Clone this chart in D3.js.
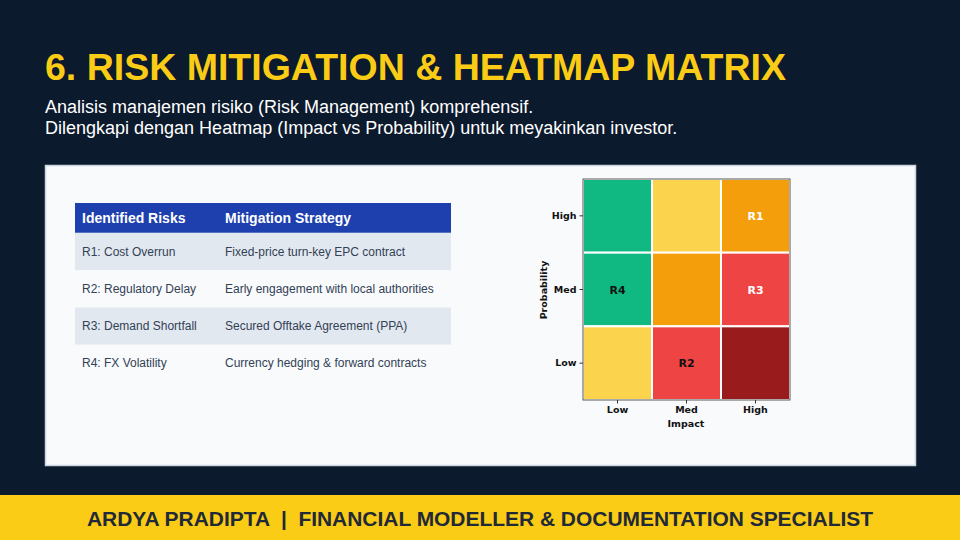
<!DOCTYPE html>
<html><head><meta charset="utf-8">
<script src="https://cdn.jsdelivr.net/npm/d3@7"></script>
<style>html,body{margin:0;padding:0;background:#0c1a2d;}svg{display:block;}</style>
</head><body><svg id="c" width="960" height="540"></svg>
<script>
const title = "6. RISK MITIGATION & HEATMAP MATRIX";
const subtitle = ["Analisis manajemen risiko (Risk Management) komprehensif.",
  "Dilengkapi dengan Heatmap (Impact vs Probability) untuk meyakinkan investor."];
const tableHeader = ["Identified Risks", "Mitigation Strategy"];
const risks = ["R1: Cost Overrun", "R2: Regulatory Delay", "R3: Demand Shortfall", "R4: FX Volatility"];
const strategies = ["Fixed-price turn-key EPC contract", "Early engagement with local authorities",
  "Secured Offtake Agreement (PPA)", "Currency hedging & forward contracts"];
const impactLevels = ["Low", "Med", "High"];
const probLevels = ["High", "Med", "Low"];
// severity per cell: rows = probability (High, Med, Low), cols = impact (Low, Med, High)
const severity = [[0, 1, 2], [0, 2, 3], [1, 3, 4]];
const riskLabels = [{id: "R1", prob: "High", impact: "High"}, {id: "R2", prob: "Low", impact: "Med"},
  {id: "R3", prob: "Med", impact: "High"}, {id: "R4", prob: "Med", impact: "Low"}];
const footer = "ARDYA PRADIPTA  |  FINANCIAL MODELLER & DOCUMENTATION SPECIALIST";

const svg = d3.select("#c");
svg.append("rect").attr("width", 960).attr("height", 540).attr("fill", "#0c1a2d");
svg.append("text").attr("x", 45).attr("y", 80).text(title)
  .attr("font-family", "Liberation Sans, Arial, sans-serif").attr("font-weight", "bold")
  .attr("font-size", 37.5).attr("fill", "#facc15");
svg.selectAll(".sub").data(subtitle).enter().append("text")
  .attr("x", 45).attr("y", (d, i) => 113 + i * 21).text(d => d)
  .attr("font-family", "Liberation Sans, Arial, sans-serif").attr("font-size", 18).attr("fill", "#ffffff");

// panel
svg.append("rect").attr("x", 45.5).attr("y", 165.5).attr("width", 870).attr("height", 300)
  .attr("fill", "#f8fafc").attr("stroke", "#cbd5e1").attr("stroke-width", 1.5);

// table
const tx = 75, tw = 376, col2 = 225;
const rowY = d3.scaleBand().domain(d3.range(risks.length)).range([233, 382]);
svg.append("rect").attr("x", tx).attr("y", 203).attr("width", tw).attr("height", 30).attr("fill", "#1e40af");
svg.append("line").attr("x1", tx).attr("x2", tx + tw).attr("y1", 233).attr("y2", 233).attr("stroke", "#93a5d6").attr("stroke-width", 1);
svg.selectAll(".th").data(tableHeader).enter().append("text")
  .attr("x", (d, i) => i === 0 ? 82 : col2).attr("y", 223).text(d => d)
  .attr("font-family", "Liberation Sans, Arial, sans-serif").attr("font-weight", "bold")
  .attr("font-size", 14).attr("fill", "#ffffff");
const rows = svg.selectAll(".row").data(risks).enter().append("g");
rows.append("rect").attr("x", tx).attr("y", (d, i) => rowY(i)).attr("width", tw).attr("height", rowY.bandwidth())
  .attr("fill", (d, i) => i % 2 === 0 ? "#e2e8f0" : "#f8fafc");
rows.append("text").attr("x", 82).attr("y", (d, i) => rowY(i) + rowY.bandwidth() / 2 + 4).text(d => d)
  .attr("font-family", "Liberation Sans, Arial, sans-serif").attr("font-size", 12).attr("fill", "#334155");
rows.append("text").attr("x", col2).attr("y", (d, i) => rowY(i) + rowY.bandwidth() / 2 + 4).text((d, i) => strategies[i])
  .attr("font-family", "Liberation Sans, Arial, sans-serif").attr("font-size", 12).attr("fill", "#334155");

// heatmap
const hx = d3.scaleBand().domain(impactLevels).range([583, 790]);
const hy = d3.scaleBand().domain(probLevels).range([179, 400]);
const colors = d3.scaleOrdinal().domain([0, 1, 2, 3, 4]).range(["#10b981", "#fcd34d", "#f59e0b", "#ef4444", "#991b1b"]);
const cells = [];
probLevels.forEach((p, r) => impactLevels.forEach((im, c) => cells.push({p, im, s: severity[r][c]})));
svg.selectAll(".cell").data(cells).enter().append("rect")
  .attr("x", d => hx(d.im)).attr("y", d => hy(d.p)).attr("width", hx.bandwidth()).attr("height", hy.bandwidth())
  .attr("fill", d => colors(d.s)).attr("stroke", "#ffffff").attr("stroke-width", 2);
svg.append("rect").attr("x", 583).attr("y", 179).attr("width", 207).attr("height", 221)
  .attr("fill", "none").attr("stroke", "#555555").attr("stroke-width", 1);
const hf = "DejaVu Sans, sans-serif";
svg.selectAll(".rl").data(riskLabels).enter().append("text")
  .attr("x", d => hx(d.impact) + hx.bandwidth() / 2).attr("y", d => hy(d.prob) + hy.bandwidth() / 2 + 4)
  .attr("text-anchor", "middle").text(d => d.id)
  .attr("font-family", hf).attr("font-weight", "bold").attr("font-size", 11)
  .attr("fill", d => (d.id === "R1" || d.id === "R3") ? "#ffffff" : "#111111");
const xAxis = svg.append("g").attr("transform", "translate(0,400)")
  .call(d3.axisBottom(hx).tickSize(3.5).tickPadding(3));
const yAxis = svg.append("g").attr("transform", "translate(583,0)")
  .call(d3.axisLeft(hy).tickSize(3.5).tickPadding(3));
[xAxis, yAxis].forEach(a => {
  a.select(".domain").remove();
  a.selectAll("text").attr("font-family", hf).attr("font-weight", "bold").attr("font-size", 9.5).attr("fill", "#111");
  a.selectAll("line").attr("stroke", "#333");
});
svg.append("text").attr("x", 686).attr("y", 427).attr("text-anchor", "middle").text("Impact")
  .attr("font-family", hf).attr("font-weight", "bold").attr("font-size", 9.5).attr("fill", "#111");
svg.append("text").attr("transform", "translate(547,290) rotate(-90)").attr("text-anchor", "middle").text("Probability")
  .attr("font-family", hf).attr("font-weight", "bold").attr("font-size", 9.5).attr("fill", "#111");

// footer
svg.append("rect").attr("x", 0).attr("y", 495).attr("width", 960).attr("height", 45).attr("fill", "#facc15");
svg.append("text").attr("x", 480).attr("y", 526).attr("text-anchor", "middle").text(footer)
  .attr("font-family", "Liberation Sans Narrow, Liberation Sans, Arial, sans-serif").attr("font-weight", "bold")
  .attr("font-size", 21).attr("fill", "#1f2937").attr("xml:space", "preserve").style("white-space", "pre")
  .attr("textLength", 786).attr("lengthAdjust", "spacingAndGlyphs");
</script></body></html>
